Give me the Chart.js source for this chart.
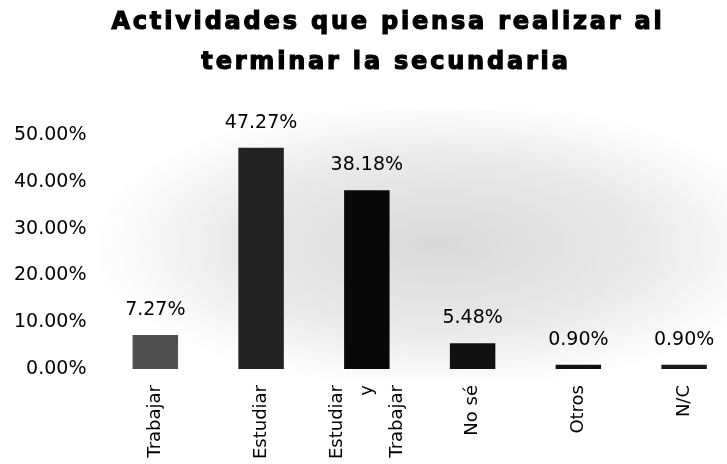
<!DOCTYPE html>
<html>
<head>
<meta charset="utf-8">
<script src="https://cdn.jsdelivr.net/npm/chart.js@4/dist/chart.umd.min.js"></script>
<style>
  html, body { margin: 0; padding: 0; background: #fff; overflow: hidden; }
  #wrap { width: 740px; height: 464px; }
</style>
</head>
<body>
<div id="wrap"><canvas id="actividades"></canvas></div>
<script>
var tituloLineas = ['Actividades que piensa realizar al', 'terminar la secundaria'];
var categorias = [['Trabajar'], ['Estudiar'], ['Estudiar', 'y', 'Trabajar'], ['No sé'], ['Otros'], ['N/C']];
var porcentajes = [7.27, 47.27, 38.18, 5.48, 0.90, 0.90];
var colores = ['#505050', '#222222', '#080808', '#111111', '#111111', '#1a1a1a'];

function pct(v) {
  return Number(v).toFixed(2) + '%';
}

// fondo gris del area del grafico (el original es escaneado)
var fondo = {
  id: 'fondo',
  beforeDatasetsDraw: function (chart) {
    var ctx = chart.ctx;
    ctx.save();
    ctx.translate(440, 245);
    ctx.scale(1, 0.42);
    var g = ctx.createRadialGradient(0, 0, 0, 0, 0, 350);
    g.addColorStop(0, 'rgba(140,140,140,0.34)');
    g.addColorStop(0.6, 'rgba(150,150,150,0.2)');
    g.addColorStop(1, 'rgba(160,160,160,0)');
    ctx.fillStyle = g;
    ctx.fillRect(-350, -320, 700, 640);
    ctx.restore();
  }
};

var titulo = {
  id: 'titulo',
  afterDraw: function (chart) {
    var ctx = chart.ctx;
    ctx.save();
    ctx.fillStyle = '#000';
    ctx.strokeStyle = '#000';
    ctx.lineWidth = 1.2;
    ctx.font = 'bold 24px "DejaVu Sans"';
    ctx.letterSpacing = '2.8px';
    ctx.textAlign = 'center';
    ctx.textBaseline = 'alphabetic';
    ctx.fillText(tituloLineas[0], 388, 29);
    ctx.strokeText(tituloLineas[0], 388, 29);
    ctx.fillText(tituloLineas[1], 386, 69);
    ctx.strokeText(tituloLineas[1], 386, 69);
    ctx.restore();
  }
};

var etiquetas = {
  id: 'etiquetas',
  afterDatasetsDraw: function (chart) {
    var ctx = chart.ctx;
    var meta = chart.getDatasetMeta(0);
    var xScale = chart.scales.x;
    ctx.save();
    ctx.fillStyle = '#000';
    ctx.font = '19px "DejaVu Sans"';
    ctx.textAlign = 'center';
    ctx.textBaseline = 'middle';
    meta.data.forEach(function (bar, i) {
      ctx.fillText(pct(porcentajes[i]), bar.x, bar.y - 25);
    });

    // etiquetas del eje x, verticales
    ctx.font = '18px "DejaVu Sans"';
    ctx.textAlign = 'right';
    var lh = 30;
    categorias.forEach(function (lineas, i) {
      var x = xScale.getPixelForTick(i);
      ctx.save();
      ctx.translate(x, chart.chartArea.bottom + 16);
      ctx.rotate(-Math.PI / 2);
      for (var j = 0; j < lineas.length; j++) {
        ctx.fillText(lineas[j], 0, (j - (lineas.length - 1) / 2) * lh);
      }
      ctx.restore();
    });
    ctx.restore();
  }
};

new Chart(document.getElementById('actividades'), {
  type: 'bar',
  data: {
    labels: categorias,
    datasets: [{
      data: porcentajes,
      backgroundColor: colores,
      borderWidth: 0,
      categoryPercentage: 1,
      barPercentage: 0.43,
    }],
  },
  options: {
    responsive: true,
    maintainAspectRatio: false,
    animation: false,
    layout: { padding: { top: 135, left: -2, right: 3, bottom: 95 } },
    plugins: {
      legend: { display: false },
      tooltip: { enabled: false },
    },
    scales: {
      x: {
        grid: { display: false, drawTicks: false },
        border: { display: false },
        ticks: { display: false },
      },
      y: {
        min: 0,
        max: 50,
        grid: { display: false, drawTicks: false },
        border: { display: false },
        ticks: {
          stepSize: 10,
          padding: 16,
          color: '#000',
          font: { family: 'DejaVu Sans', size: 19 },
          callback: function (v) { return pct(v); },
        },
      },
    },
  },
  plugins: [fondo, etiquetas, titulo],
});
</script>
</body>
</html>
